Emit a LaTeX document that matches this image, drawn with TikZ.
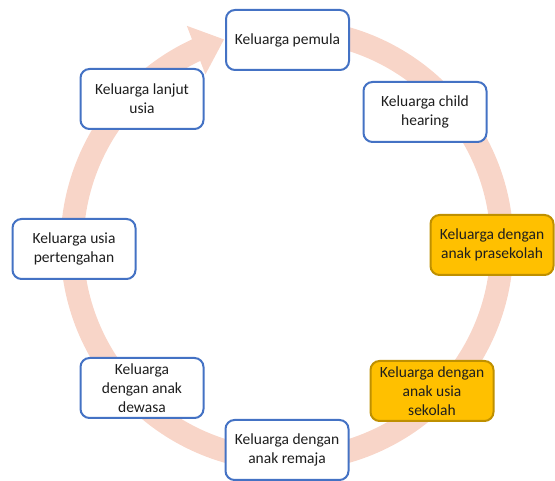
\documentclass[tikz,border=0pt]{standalone}
\usepackage{fontspec}
\setmainfont{Carlito}
\usetikzlibrary{arrows.meta,bending}
\definecolor{ringc}{RGB}{248,213,200}
\definecolor{boxblue}{RGB}{68,114,196}
\definecolor{gold}{RGB}{255,192,0}
\definecolor{golddark}{RGB}{191,144,0}
\definecolor{txt}{RGB}{30,30,30}
\tikzset{
  stagebox/.style={draw=boxblue, line width=2pt, fill=white, rounded corners=9pt,
    minimum width=123pt, minimum height=60pt, align=center, text=txt,
    font=\fontsize{15.5}{19}\selectfont, inner sep=2pt},
  hibox/.style={stagebox, draw=golddark, fill=gold},
  ring/.style={draw=ringc, line width=23pt}
}
\begin{document}
\begin{tikzpicture}[x=1pt,y=1pt]
\useasboundingbox (0,0) rectangle (555,481);
\coordinate (c) at (287,236);
\draw[ring, -{Triangle[length=30pt,width=50pt]}] (c) ++(85:215) arc[start angle=85, end angle=-253, radius=215];
\node[stagebox] (n1) at (287.5,441) {Keluarga pemula};
\node[stagebox] (n2) at (425,369) {Keluarga child\\hearing};
\node[hibox] (n3) at (492,236) {Keluarga dengan\\anak prasekolah};
\node[hibox] (n4) at (432,90) {Keluarga dengan\\anak usia\\sekolah};
\node[stagebox] (n5) at (287,31) {Keluarga dengan\\anak remaja};
\node[stagebox] (n6) at (142,93) {Keluarga\\dengan anak\\dewasa};
\node[stagebox] (n7) at (74,232) {Keluarga usia\\pertengahan};
\node[stagebox] (n8) at (142,382) {Keluarga lanjut\\usia};
\end{tikzpicture}
\end{document}
